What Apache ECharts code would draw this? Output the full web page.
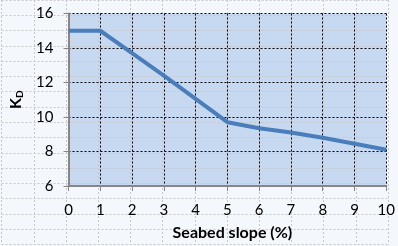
<!DOCTYPE html>
<html>
<head>
<meta charset="utf-8">
<script src="https://cdn.jsdelivr.net/npm/echarts@6/dist/echarts.min.js"></script>
<style>
html,body{margin:0;padding:0;background:#f4f7fb;}
#c{width:398px;height:246px;}
</style>
</head>
<body>
<div id="c"></div>
<script>
var slopes = [0, 1, 2, 3, 4, 5, 6, 7, 8, 9, 10];
var kd = [15, 15, 13.7, 12.4, 11.05, 9.7, 9.35, 9.1, 8.8, 8.45, 8.1];
var xTicks = [0, 1, 2, 3, 4, 5, 6, 7, 8, 9, 10];
var yTicks = [6, 8, 10, 12, 14, 16];

var chart = echarts.init(document.getElementById('c'), null, {renderer: 'canvas'});
var fontFam = 'Lato, "Liberation Sans", Arial, sans-serif';
var pts = slopes.map(function (s, i) { return [s, kd[i]]; });

chart.setOption({
  backgroundColor: '#f4f7fb',
  animation: false,
  grid: [
    {left: 66, right: 10, top: 13.5, bottom: 56, backgroundColor: '#c6d9f1', show: true, borderWidth: 0},
    {left: 1.6, right: 10, top: -0.3, bottom: 1.4, show: false}
  ],
  xAxis: [
    {
      type: 'value', gridIndex: 0, min: xTicks[0], max: xTicks[xTicks.length - 1], interval: 1,
      name: 'Seabed slope (%)', nameLocation: 'middle', nameGap: 39,
      nameTextStyle: {fontFamily: fontFam, fontSize: 16, fontWeight: 'bold', color: '#000', padding: [0, 0, 0, 10]},
      axisLine: {show: true, onZero: false, lineStyle: {color: '#868686', width: 2}},
      axisTick: {show: true, length: 5, lineStyle: {color: '#868686'}},
      axisLabel: {fontFamily: fontFam, fontSize: 15, color: '#000', margin: 17},
      splitLine: {show: true, lineStyle: {color: '#000', type: [2, 2], width: 1}},
      z: 3
    },
    {
      type: 'value', gridIndex: 1, min: -2, max: 10, interval: 1,
      axisLine: {show: false}, axisTick: {show: false}, axisLabel: {show: false},
      splitLine: {show: true, lineStyle: {color: '#c8c8c8', type: [2, 2], width: 1}}
    }
  ],
  yAxis: [
    {
      type: 'value', gridIndex: 0, min: yTicks[0], max: yTicks[yTicks.length - 1], interval: 2,
      name: '{k|K}{d|D}', nameLocation: 'middle', nameGap: 44, nameRotate: 90,
      nameTextStyle: {
        color: '#000',
        rich: {
          k: {fontFamily: fontFam, fontSize: 16, fontWeight: 'bold', color: '#000'},
          d: {fontFamily: fontFam, fontSize: 10, fontWeight: 'bold', color: '#000', verticalAlign: 'bottom', padding: [7, 0, 0, 0]}
        }
      },
      axisLine: {show: true, onZero: false, lineStyle: {color: '#868686', width: 2}},
      axisTick: {show: true, length: 5, lineStyle: {color: '#868686'}},
      axisLabel: {fontFamily: fontFam, fontSize: 15, color: '#000', margin: 15},
      splitLine: {show: true, lineStyle: {color: '#000', type: [2, 2], width: 1}},
      z: 3
    },
    {
      type: 'value', gridIndex: 1, min: 0, max: 16, interval: 1, inverse: true,
      axisLine: {show: false}, axisTick: {show: false}, axisLabel: {show: false},
      splitLine: {show: true, lineStyle: {color: '#c8c8c8', type: [2, 2], width: 1}}
    }
  ],
  series: [
    {
      type: 'line', xAxisIndex: 0, yAxisIndex: 0, data: pts,
      showSymbol: false, symbol: 'none',
      lineStyle: {color: '#4a7ebb', width: 4},
      z: 5
    }
  ]
});
</script>
</body>
</html>
